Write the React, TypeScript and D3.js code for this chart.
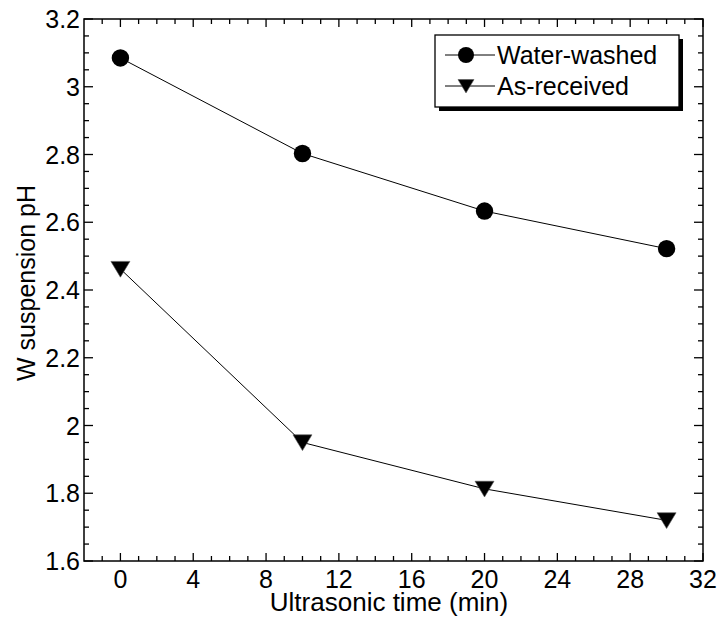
import React from "react";
import * as d3 from "d3";

const times = [0, 10, 20, 30];
const waterWashed = [3.085, 2.803, 2.633, 2.522];
const asReceived = [2.462, 1.95, 1.813, 1.72];
const xTicks = [0, 4, 8, 12, 16, 20, 24, 28, 32];
const yTicks = [1.6, 1.8, 2, 2.2, 2.4, 2.6, 2.8, 3, 3.2];
const seriesNames = ["Water-washed", "As-received"];

const width = 718, height = 618;
const margin = { left: 84, right: 15, top: 19, bottom: 57 };
const font = "'Liberation Sans', Arial, sans-serif";

// down-pointing triangle, w wide, centred roughly on (x, y)
const triangle = (sel, x, y, w) =>
  sel.append("path")
    .attr("d", `M${x - w / 2},${y - w * 0.4}L${x + w / 2},${y - w * 0.4}L${x},${y + w * 0.43}Z`)
    .attr("fill", "#000")
    .attr("stroke", "#555")
    .attr("stroke-width", 0.6);

const App = () => {
  const ref = React.useRef(null);

  React.useEffect(() => {
    const svg = d3.select(ref.current);
    svg.selectAll("*").remove();
    const x0 = margin.left, x1 = width - margin.right, y0 = height - margin.bottom, y1 = margin.top;
    const x = d3.scaleLinear([-2, 32], [x0, x1]);
    const y = d3.scaleLinear([1.6, 3.2], [y0, y1]);

    const g = svg.append("g");
    // frame
    g.append("rect")
      .attr("x", x0).attr("y", y1).attr("width", x1 - x0).attr("height", y0 - y1)
      .attr("fill", "none").attr("stroke", "#000").attr("stroke-width", 1.5);

    // ticks on all four sides, inward
    const xMinor = d3.range(-1, 32, 1).filter(v => v % 4 !== 0);
    const yMinor = d3.range(1.65, 3.2, 0.05).filter(v => Math.abs(Math.round(v * 5) - v * 5) > 0.01);
    const tick = (x1_, y1_, x2_, y2_) =>
      g.append("line").attr("x1", x1_).attr("y1", y1_).attr("x2", x2_).attr("y2", y2_)
        .attr("stroke", "#000").attr("stroke-width", 1.3);
    xTicks.forEach(v => { tick(x(v), y0, x(v), y0 - 8); tick(x(v), y1, x(v), y1 + 8); });
    xMinor.forEach(v => { tick(x(v), y0, x(v), y0 - 5); tick(x(v), y1, x(v), y1 + 5); });
    yTicks.forEach(v => { tick(x0, y(v), x0 + 9, y(v)); tick(x1, y(v), x1 - 9, y(v)); });
    yMinor.forEach(v => { tick(x0, y(v), x0 + 5, y(v)); tick(x1, y(v), x1 - 5, y(v)); });

    // tick labels
    g.selectAll(".xl").data(xTicks).join("text")
      .attr("x", d => x(d)).attr("y", 588)
      .attr("text-anchor", "middle").attr("font-family", font).attr("font-size", 25)
      .text(d => d);
    g.selectAll(".yl").data(yTicks).join("text")
      .attr("x", 80).attr("y", d => y(d)).attr("dy", "0.36em")
      .attr("text-anchor", "end").attr("font-family", font).attr("font-size", 25)
      .text(d => d3.format("~g")(d));

    // axis titles
    g.append("text").attr("x", 389).attr("y", 611)
      .attr("text-anchor", "middle").attr("font-family", font).attr("font-size", 26)
      .text("Ultrasonic time (min)");
    g.append("text").attr("transform", "translate(35,283) rotate(-90)")
      .attr("text-anchor", "middle").attr("font-family", font).attr("font-size", 25)
      .text("W suspension pH");

    // series
    const line = d3.line().x(d => x(d[0])).y(d => y(d[1]));
    const ww = times.map((t, i) => [t, waterWashed[i]]);
    const ar = times.map((t, i) => [t, asReceived[i]]);
    g.append("path").attr("d", line(ww)).attr("fill", "none").attr("stroke", "#000").attr("stroke-width", 1);
    g.append("path").attr("d", line(ar)).attr("fill", "none").attr("stroke", "#000").attr("stroke-width", 1);
    g.selectAll(".ww").data(ww).join("circle")
      .attr("cx", d => x(d[0])).attr("cy", d => y(d[1])).attr("r", 8.7).attr("fill", "#000");
    ar.forEach(d => triangle(g, x(d[0]), y(d[1]), 19));

    // legend
    const lg = { x: 435, y: 35, w: 244, h: 72 };
    g.append("rect").attr("x", lg.x + 4).attr("y", lg.y + 4).attr("width", lg.w).attr("height", lg.h).attr("fill", "#000");
    g.append("rect").attr("x", lg.x).attr("y", lg.y).attr("width", lg.w).attr("height", lg.h)
      .attr("fill", "#fff").attr("stroke", "#000").attr("stroke-width", 1.3);
    seriesNames.forEach((name, i) => {
      const ry = [55, 86][i];
      g.append("line").attr("x1", 445).attr("x2", 495).attr("y1", ry).attr("y2", ry).attr("stroke", "#000").attr("stroke-width", 1);
      if (i === 0) g.append("circle").attr("cx", 466).attr("cy", ry).attr("r", 8).attr("fill", "#000");
      else triangle(g, 466, ry, 16);
      g.append("text").attr("x", 497).attr("y", ry).attr("dy", "0.36em")
        .attr("font-family", font).attr("font-size", 25).text(name);
    });
  }, []);

  return <svg ref={ref} width={width} height={height} style={{ position: "absolute", left: 0, top: 0, background: "#fff" }} />;
};

export default App;
